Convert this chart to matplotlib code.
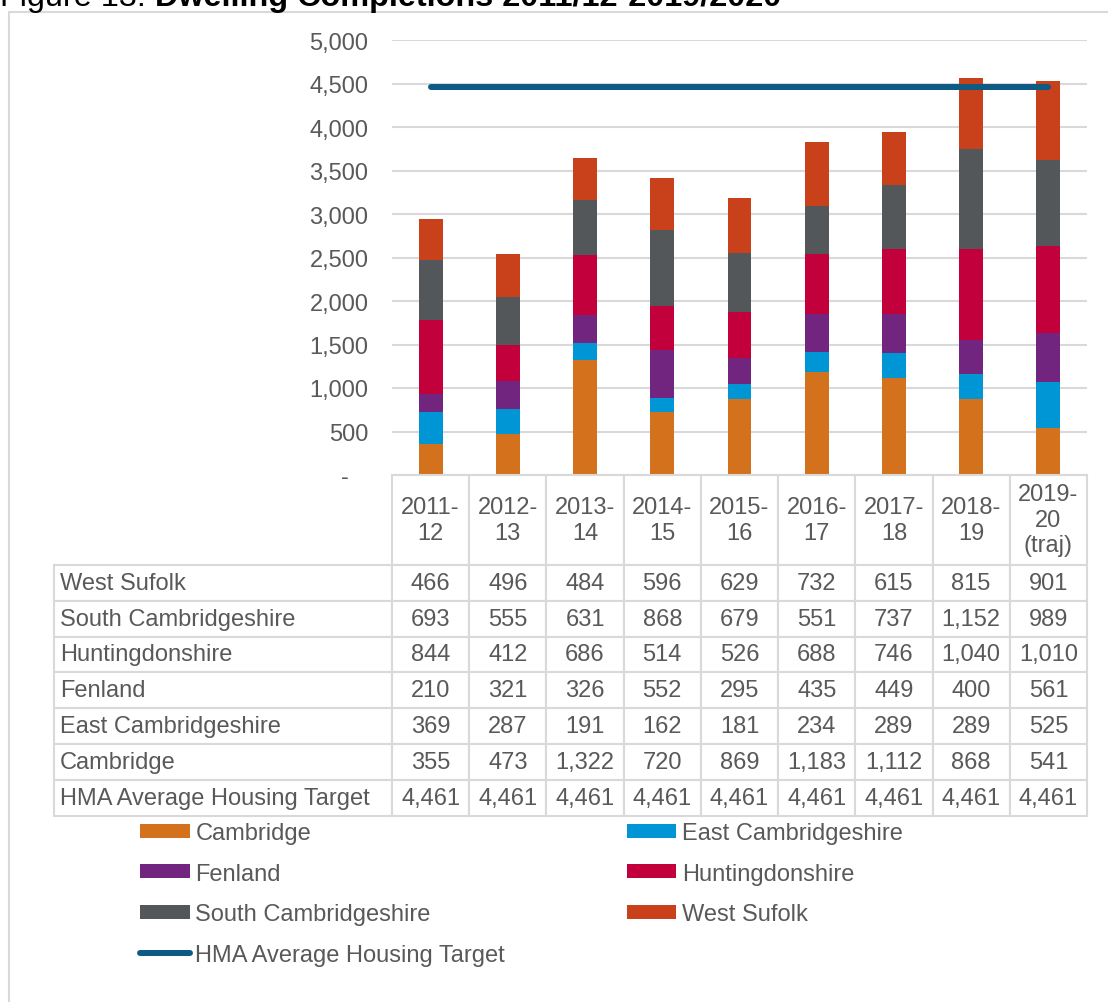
import numpy as np
import matplotlib
matplotlib.use('Agg')
import matplotlib.pyplot as plt
from matplotlib.patches import Rectangle
from matplotlib.table import Table
from matplotlib.ticker import FuncFormatter

plt.rcParams['font.family'] = ['Liberation Sans', 'DejaVu Sans']

# data
years = ['2011-\n12', '2012-\n13', '2013-\n14', '2014-\n15', '2015-\n16',
         '2016-\n17', '2017-\n18', '2018-\n19', '2019-\n20\n(traj)']
cambridge = [355, 473, 1322, 720, 869, 1183, 1112, 868, 541]
east_cambs = [369, 287, 191, 162, 181, 234, 289, 289, 525]
fenland = [210, 321, 326, 552, 295, 435, 449, 400, 561]
huntingdonshire = [844, 412, 686, 514, 526, 688, 746, 1040, 1010]
south_cambs = [693, 555, 631, 868, 679, 551, 737, 1152, 989]
west_sufolk = [466, 496, 484, 596, 629, 732, 615, 815, 901]
hma_target = [4461] * 9

series_names = ['Cambridge', 'East Cambridgeshire', 'Fenland', 'Huntingdonshire',
                'South Cambridgeshire', 'West Sufolk']
series_vals = [cambridge, east_cambs, fenland, huntingdonshire, south_cambs, west_sufolk]
colors = ['#D4711D', '#0096D6', '#72257E', '#C2003B', '#53575A', '#C9411B']
line_color = '#0D5A84'
grey_txt = '#595959'
grid_col = '#D9D9D9'

W, H = 1108, 1003
fig = plt.figure(figsize=(W / 100, H / 100), dpi=100)


def box(l, t, r, b):
    return [l / W, 1 - b / H, (r - l) / W, (b - t) / H]


# outer chart frame (runs off the right/bottom of the crop)
fig.add_artist(Rectangle((8.5 / W, -0.1), 1.2, 1 - 12.5 / H + 0.1, transform=fig.transFigure,
                         fill=False, ec=grid_col, lw=1.5))

# title, partly cut off at the top
t1 = fig.text(0.0, 1 - 6 / H, 'Figure 13: ', fontsize=23.3, va='baseline', color='black')
fig.canvas.draw()
bb = t1.get_window_extent()
fig.text(bb.x1 / W, 1 - 6 / H, 'Dwelling Completions 2011/12-2019/2020', fontsize=23.3,
         fontweight='bold', va='baseline', color='black')

ax = fig.add_axes(box(392, 41, 1087, 476))
x = np.arange(len(years))
bottom = np.zeros(len(years))
handles = []
for vals, name, c in zip(series_vals, series_names, colors):
    b = ax.bar(x, vals, 0.31, bottom=bottom, color=c, label=name, zorder=3)
    handles.append(b)
    bottom += np.array(vals)
line, = ax.plot(x, hma_target, color=line_color, lw=4.3, solid_capstyle='round', zorder=4,
                label='HMA Average Housing Target')
handles.append(line)

ax.set_xlim(-0.5, len(years) - 0.5)
ax.set_ylim(0, 5000)
ax.set_yticks(np.arange(0, 5001, 500))
ax.yaxis.set_major_formatter(FuncFormatter(lambda v, p: f'{v:,.0f}' if v else '-   '))
ax.tick_params(axis='y', length=0, pad=17, labelsize=17, labelcolor=grey_txt)
ax.set_xticks([])
ax.grid(axis='y', color=grid_col, lw=1.5, zorder=0)
for s in ax.spines.values():
    s.set_visible(False)

# data table under the bars; the bbox covers the number grid, row labels hang off the left
row_labels = ['West Sufolk', 'South Cambridgeshire', 'Huntingdonshire', 'Fenland',
              'East Cambridgeshire', 'Cambridge', 'HMA Average Housing Target']
table_rows = [west_sufolk, south_cambs, huntingdonshire, fenland, east_cambs, cambridge, hma_target]

grid_w, grid_h = 695.0, 341.0
label_w = 338 / grid_w
col_w = 1 / len(years)
tax = fig.add_axes(box(392, 476, 1087, 817))
tax.axis('off')
tbl = Table(tax, bbox=[0, 0, 1, 1])
for j, yr in enumerate(years):
    tbl.add_cell(0, j, col_w, 90 / grid_h, text=yr, loc='center')
for i, (lab, row) in enumerate(zip(row_labels, table_rows), start=1):
    tbl.add_cell(i, -1, label_w, 36 / grid_h, text=lab, loc='left')
    for j, v in enumerate(row):
        tbl.add_cell(i, j, col_w, 36 / grid_h, text=f'{v:,}', loc='center')
tbl.auto_set_font_size(False)
tbl.set_fontsize(17)
for (r, c), cell in tbl.get_celld().items():
    cell.set_edgecolor(grid_col)
    cell.set_linewidth(1.5)
    cell.get_text().set_color(grey_txt)
    if c == -1:
        cell.PAD = 6 / 338
tax.add_table(tbl)

# legend, filled row by row like the original
labels = series_names + ['HMA Average Housing Target']
order = [0, 2, 4, 6, 1, 3, 5]
fig.legend([handles[i] for i in order], [labels[i] for i in order], ncol=2,
           loc='upper left', bbox_to_anchor=(140 / W, 1 - 823 / H), frameon=False,
           fontsize=17, handlelength=2.1, handleheight=0.55, handletextpad=0.25,
           columnspacing=5.14, labelspacing=0.79, borderpad=0, borderaxespad=0,
           labelcolor=grey_txt)

fig.savefig('out.png', dpi=100)
